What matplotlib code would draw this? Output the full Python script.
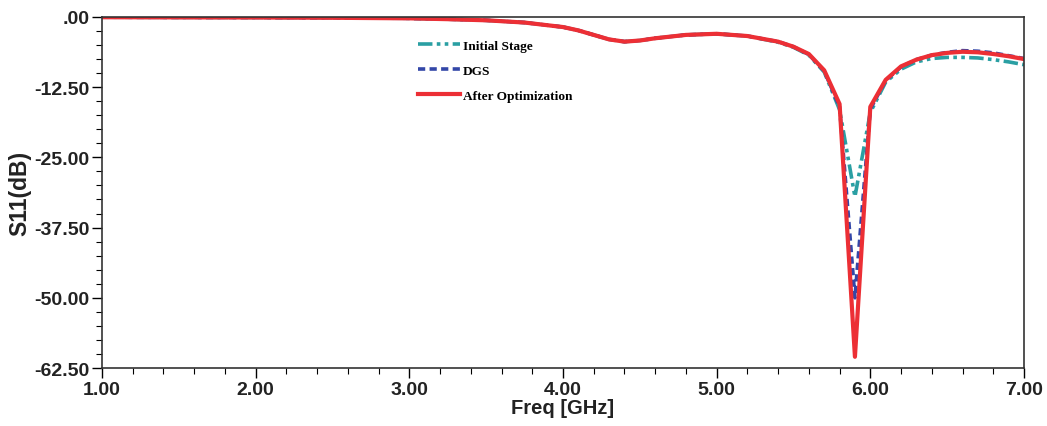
import numpy as np
import matplotlib
matplotlib.use('Agg')
from matplotlib import pyplot as plt
from matplotlib.ticker import MultipleLocator

# frequency points (GHz)
freq = [1.0, 1.5, 2.0, 2.5, 3.0, 3.25, 3.5, 3.75, 4.0, 4.1, 4.2, 4.3, 4.4, 4.5,
        4.6, 4.8, 5.0, 5.2, 5.4, 5.5, 5.6, 5.7, 5.8, 5.9, 6.0, 6.1, 6.2, 6.3,
        6.4, 6.5, 6.6, 6.7, 6.8, 6.9, 7.0]

# S11 in dB for each design
initial = [-0.05, -0.08, -0.1, -0.15, -0.25, -0.4, -0.6, -1.0, -1.8, -2.4, -3.2, -4.0, -4.4, -4.2,
           -3.8, -3.2, -3.0, -3.4, -4.5, -5.4, -6.8, -9.8, -16.5, -32.0, -17.0, -11.6, -9.3, -8.0,
           -7.4, -7.2, -7.2, -7.3, -7.6, -8.0, -8.5]
dgs = [-0.05, -0.08, -0.1, -0.15, -0.25, -0.4, -0.6, -1.0, -1.8, -2.4, -3.2, -4.0, -4.4, -4.2,
       -3.8, -3.2, -3.0, -3.4, -4.4, -5.3, -6.7, -9.6, -16.0, -50.0, -16.4, -11.3, -8.9, -7.6,
       -6.8, -6.3, -6.0, -6.1, -6.4, -6.9, -7.4]
after = [-0.05, -0.08, -0.1, -0.15, -0.25, -0.4, -0.6, -1.0, -1.8, -2.4, -3.2, -4.0, -4.4, -4.2,
         -3.8, -3.2, -3.0, -3.4, -4.4, -5.3, -6.6, -9.5, -15.5, -60.5, -16.0, -11.2, -8.8, -7.6,
         -6.8, -6.4, -6.2, -6.3, -6.6, -7.0, -7.5]

xticks = [1, 2, 3, 4, 5, 6, 7]
xlabels = ['1.00', '2.00', '3.00', '4.00', '5.00', '6.00', '7.00']
yticks = [0, -12.5, -25, -37.5, -50, -62.5]
ylabels = ['.00', '-12.50', '-25.00', '-37.50', '-50.00', '-62.50']

sans = ['Liberation Sans', 'DejaVu Sans']

fig = plt.figure(figsize=(10.47, 4.27), dpi=100)
ax = fig.add_axes([0.0974, 0.1358, 0.8806, 0.8222])

ax.plot(freq, initial, color='#2a9fa3', lw=2.6, ls=(0, (4, 1.2, 1, 1.2, 1, 1.2)),
        label='Initial Stage')
ax.plot(freq, dgs, color='#3347a8', lw=2.6, ls=(0, (2, 1.2)), label='DGS')
ax.plot(freq, after, color='#ec2f35', lw=3.0, label='After Optimization')

ax.set_xlim(1, 7)
ax.set_ylim(-62.5, 0)
ax.set_xticks(xticks)
ax.set_xticklabels(xlabels)
ax.set_yticks(yticks)
ax.set_yticklabels(ylabels)
ax.xaxis.set_minor_locator(MultipleLocator(0.2))
ax.yaxis.set_minor_locator(MultipleLocator(2.5))
ax.tick_params(which='major', direction='out', length=7, width=1, labelsize=14, pad=2)
ax.tick_params(which='minor', direction='out', length=4, width=0.8)
for lab in ax.get_xticklabels() + ax.get_yticklabels():
    lab.set_fontweight('bold')
    lab.set_family(sans)
    lab.set_color('#222222')
for s in ax.spines.values():
    s.set_color('#333333')
    s.set_linewidth(1.2)

ax.set_xlabel('Freq [GHz]', fontsize=14.5, fontweight='bold', family=sans,
              color='#222222', labelpad=0)
ax.set_ylabel('S11(dB)', fontsize=16.5, fontweight='bold', family=sans,
              color='#222222', labelpad=2)

ax.legend(loc='upper left', bbox_to_anchor=(0.33, 0.969), frameon=False, handlelength=3.1,
          handletextpad=0.25, labelspacing=0.95,
          prop={'family': 'Liberation Serif', 'weight': 'bold', 'size': 9.6})

fig.savefig('out.png', dpi=100)
